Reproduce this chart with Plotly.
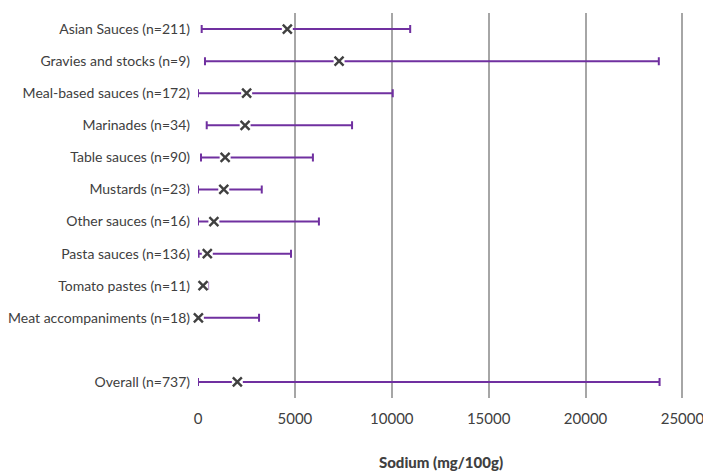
import plotly.graph_objects as go

categories = [
    "Asian Sauces (n=211)",
    "Gravies and stocks (n=9)",
    "Meal-based sauces (n=172)",
    "Marinades (n=34)",
    "Table sauces (n=90)",
    "Mustards (n=23)",
    "Other sauces (n=16)",
    "Pasta sauces (n=136)",
    "Tomato pastes (n=11)",
    "Meat accompaniments (n=18)",
    "Overall (n=737)",
]
median = [4610, 7280, 2510, 2430, 1400, 1330, 820, 480, 260, 20, 2030]
minimum = [190, 360, 0, 450, 155, 0, 0, 30, 30, 0, 0]
maximum = [10950, 23780, 10050, 7950, 5930, 3290, 6240, 4800, 520, 3150, 23820]
x_ticks = [0, 5000, 10000, 15000, 20000, 25000]

spacer = " "
axis_order = categories[:-1] + [spacer] + categories[-1:]

plus = [mx - md for mx, md in zip(maximum, median)]
minus = [md - mn for md, mn in zip(median, minimum)]

purple = "#7030A0"
text_col = "#404040"
fam = "Lato, sans-serif"

fig = go.Figure()
fig.add_trace(go.Scatter(
    x=median, y=categories, mode="markers", cliponaxis=False,
    marker=dict(symbol="square", size=11, color="white", line=dict(width=0)),
    error_x=dict(type="data", symmetric=False, array=plus, arrayminus=minus,
                 color=purple, thickness=2, width=4),
    showlegend=False, hoverinfo="skip",
))
fig.add_trace(go.Scatter(
    x=median, y=categories, mode="markers", cliponaxis=False,
    marker=dict(symbol="x-thin", size=9, color="#404040",
                line=dict(color="#404040", width=2.4)),
    showlegend=False,
))

fig.update_layout(
    width=703, height=471,
    margin=dict(l=198, r=19, t=13, b=73),
    plot_bgcolor="white", paper_bgcolor="white",
    font=dict(family=fam, size=14, color=text_col),
    xaxis=dict(range=[0, 25080], tickvals=x_ticks,
               showgrid=True, gridcolor="#A6A6A6", gridwidth=1.5,
               zeroline=False, showline=False, ticks="", automargin=False,
               ticklabeloverflow="allow", ticklabelstandoff=10,
               tickformat="d", tickfont=dict(size=15),
               title=dict(text="Sodium (mg/100g)", standoff=32,
                          font=dict(size=15, family="Lato", weight=900))),
    yaxis=dict(type="category", categoryorder="array", categoryarray=axis_order,
               range=[11.5, -0.5], showgrid=False, zeroline=False,
               showline=False, ticks="", ticklabelstandoff=7, automargin=False,
               tickfont=dict(size=14)),
)

fig.write_html("out.html", config={"displayModeBar": False},
               post_script="document.body.style.margin='0';document.body.style.overflow='hidden';")
